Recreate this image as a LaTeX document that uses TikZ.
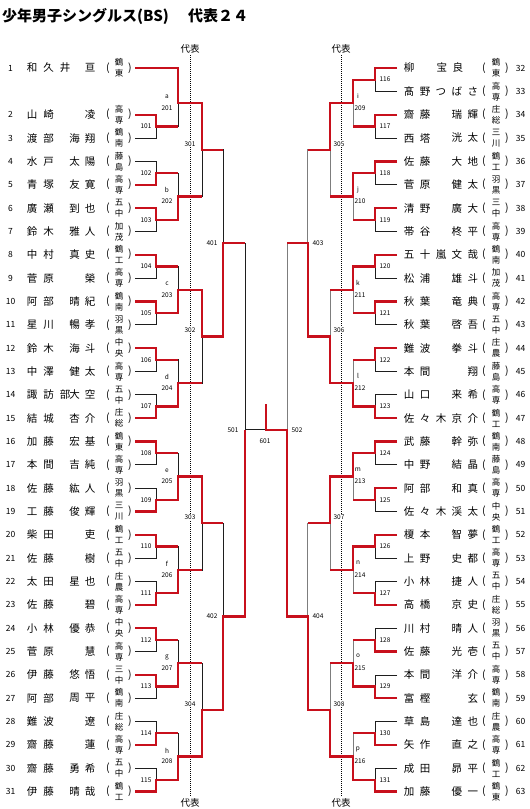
\documentclass[tikz,border=0pt]{standalone}
\usepackage{fontspec}
\setmainfont{Noto Sans CJK JP}
\definecolor{redc}{RGB}{200,16,28}
\definecolor{thinc}{RGB}{30,30,30}
\definecolor{thinr}{RGB}{125,125,125}
\newlength\chw
\def\bx#1{\bxi#1\relax}
\def\bxi#1{\ifx\relax#1\else\makebox[\chw]{#1}\expandafter\bxi\fi}
\newcommand\slotu{23.34}
\def\losec{thinc}
% match: #1 xin top, #2 xin bottom, #3 x vertical, #4 x out, #5 y top, #6 y bottom, #7 y mid, #8 winner T/B
\newcommand\Mt[8]{%
  \draw[t#8] (#1,#5) -- (#3,#5) -- (#3,#7) -- (#4,#7);
  \draw[b#8] (#2,#6) -- (#3,#6) -- (#3,#7) -- (#4,#7);
}
\newcommand\bracket{%
 \def\losec{thinc}%
 % ---- left
 \foreach \sl/\wn in {2/T,4/B,6/T,8/T,10/T,12/T,14/B,16/T,18/B,20/T,22/B,24/T,26/T,28/B,30/B}{%
   \pgfmathsetmacro\yt{68+\sl*\slotu}%
   \pgfmathsetmacro\yb{68+(\sl+1)*\slotu}%
   \pgfmathsetmacro\ym{68+(\sl+0.5)*\slotu}%
   \Mt{135}{135}{156}{178}{\yt}{\yb}{\ym}{\wn}}%
 \Mt{135}{156}{178}{202}{68}{68+2.5*\slotu}{68+1.5*\slotu}{T}%
 \foreach \sl/\wn in {4/B,8/B,12/B,16/B,20/B,24/B,28/B}{%
   \pgfmathsetmacro\yt{68+(\sl+0.5)*\slotu}%
   \pgfmathsetmacro\yb{68+(\sl+2.5)*\slotu}%
   \pgfmathsetmacro\ym{68+(\sl+1.5)*\slotu}%
   \Mt{156}{156}{178}{202}{\yt}{\yb}{\ym}{\wn}}%
 \foreach \sl/\wn in {0/T,8/T,16/T,24/B}{%
   \pgfmathsetmacro\yt{68+(\sl+1.5)*\slotu}%
   \pgfmathsetmacro\yb{68+(\sl+5.5)*\slotu}%
   \pgfmathsetmacro\ym{68+(\sl+3.5)*\slotu}%
   \Mt{178}{178}{202}{223}{\yt}{\yb}{\ym}{\wn}}%
 \foreach \sl/\wn in {0/B,16/B}{%
   \pgfmathsetmacro\yt{68+(\sl+3.5)*\slotu}%
   \pgfmathsetmacro\yb{68+(\sl+11.5)*\slotu}%
   \pgfmathsetmacro\ym{68+(\sl+7.5)*\slotu}%
   \Mt{202}{202}{223}{245}{\yt}{\yb}{\ym}{\wn}}%
 \Mt{223}{223}{245}{245}{68+7.5*\slotu}{68+23.5*\slotu}{68+15.5*\slotu}{B}%
 \draw[lose] (245,68+15.5*\slotu) -- (266,68+15.5*\slotu);
 % ---- right
 \foreach \sl/\wn in {0/T,2/T,4/T,6/T,8/T,10/T,12/T,14/B,16/T,18/T,20/T,22/B,24/B,26/B,28/B,30/B}{%
   \pgfmathsetmacro\yt{68+\sl*\slotu}%
   \pgfmathsetmacro\yb{68+(\sl+1)*\slotu}%
   \pgfmathsetmacro\ym{68+(\sl+0.5)*\slotu}%
   \Mt{397}{397}{375}{353}{\yt}{\yb}{\ym}{\wn}}%
 \def\losec{thinr}%
 \foreach \sl/\wn in {0/T,4/T,8/T,12/B,16/T,20/T,24/B,28/B}{%
   \pgfmathsetmacro\yt{68+(\sl+0.5)*\slotu}%
   \pgfmathsetmacro\yb{68+(\sl+2.5)*\slotu}%
   \pgfmathsetmacro\ym{68+(\sl+1.5)*\slotu}%
   \Mt{375}{375}{353}{330}{\yt}{\yb}{\ym}{\wn}}%
 \foreach \sl/\wn in {0/T,8/B,16/T,24/B}{%
   \pgfmathsetmacro\yt{68+(\sl+1.5)*\slotu}%
   \pgfmathsetmacro\yb{68+(\sl+5.5)*\slotu}%
   \pgfmathsetmacro\ym{68+(\sl+3.5)*\slotu}%
   \Mt{353}{353}{330}{307.7}{\yt}{\yb}{\ym}{\wn}}%
 \foreach \sl/\wn in {0/B,16/B}{%
   \pgfmathsetmacro\yt{68+(\sl+3.5)*\slotu}%
   \pgfmathsetmacro\yb{68+(\sl+11.5)*\slotu}%
   \pgfmathsetmacro\ym{68+(\sl+7.5)*\slotu}%
   \Mt{330}{330}{307.7}{287}{\yt}{\yb}{\ym}{\wn}}%
 \Mt{307.7}{307.7}{287}{266}{68+7.5*\slotu}{68+23.5*\slotu}{68+15.5*\slotu}{B}%
 \draw[win] (287,68+15.5*\slotu) -- (266,68+15.5*\slotu) -- (266,404);
 \def\losec{thinc}%
}
\newcommand\Lrow[6]{%
 \pgfmathsetmacro\yy{68+#2*\slotu}%
 \node[numf] (lnum#1) at (10.5,\yy) {#1};
 \node[nmf,anchor=west] (lsur#1) at (23.75,\yy) {\setlength\chw{16.5pt}\bx{#3}};
 \node[nmf,anchor=east] (lgiv#1) at (98,\yy) {\setlength\chw{15.5pt}\bx{#4}};
 \node[nmf] (lpo#1) at (108,\yy) {(};
 \node[schf] (lsch#1) at (119,\yy) {#5\\#6};
 \node[nmf] (lpc#1) at (130,\yy) {)};
}
\newcommand\Rrow[7]{%
 \pgfmathsetmacro\yy{68+#2*\slotu}%
 \node[numf] (rnum#1) at (520.5,\yy) {#1};
 \node[nmf,anchor=west] (rsur#1) at (401,\yy) {\setlength\chw{16pt}\bx{#3}};
 \node[nmf,anchor=east] (rgiv#1) at (#7,\yy) {\setlength\chw{16pt}\bx{#4}};
 \node[nmf] (rpo#1) at (484,\yy) {(};
 \node[schf] (rsch#1) at (496,\yy) {#5\\#6};
 \node[nmf] (rpc#1) at (507,\yy) {)};
}
\tikzset{
 nmf/.style={font=\fontsize{10.5}{12}\selectfont, inner sep=0pt},
 schf/.style={font=\fontsize{8.5}{11}\selectfont, align=center, inner sep=0pt},
 numf/.style={font=\fontsize{8.5}{10}\selectfont, inner sep=0pt},
 labf/.style={font=\fontsize{6.5}{7}\selectfont, inner sep=0.6pt},
 labw/.style={labf, fill=white},
 repf/.style={font=\fontsize{9.5}{10}\selectfont, inner sep=0pt},
 titlef/.style={font=\fontsize{15}{18}\selectfont\bfseries, inner sep=0pt},
 dotln/.style={draw=black, line width=0.6pt, dash pattern=on 1pt off 1pt},
 tT/.style={win}, tB/.style={lose}, bT/.style={lose}, bB/.style={win},
}
\begin{document}
\begin{tikzpicture}[x=1pt,y=-1pt,line join=miter]
\useasboundingbox (0,0) rectangle (530,809);
\fill[white] (0,0) rectangle (530,809);
% title
\node[titlef,anchor=west] (title) at (2,16) {少年男子シングルス(BS)};
\node[titlef,anchor=west] (title2) at (188,16) {代表２４};
% representative lines
\node[repf] (repL) at (190,49) {代表};
\node[repf] (repR) at (341,49) {代表};
\node[repf] (repLb) at (190,803) {代表};
\node[repf] (repRb) at (341,803) {代表};
\draw[dotln] (190,55) -- (190,797);
\draw[dotln] (341,55) -- (341,797);
% bracket: thin lines first, red lines on top
\tikzset{win/.style={draw=none},lose/.style={draw=\losec,line width=0.6pt}}
\bracket
\tikzset{win/.style={draw=redc,line width=2.3pt},lose/.style={draw=none}}
\bracket
% match labels left
\foreach \sl/\n in {2/101,4/102,6/103,8/104,10/105,12/106,14/107,16/108,18/109,20/110,22/111,24/112,26/113,28/114,30/115}{%
  \pgfmathsetmacro\ym{68+(\sl+0.5)*\slotu}
  \node[labf] (m\n) at (146,\ym) {\n};}
\foreach \sl/\lt/\n in {0/a/201,4/b/202,8/c/203,12/d/204,16/e/205,20/f/206,24/g/207,28/h/208}{%
  \pgfmathsetmacro\ym{68+(\sl+1.5)*\slotu}
  \node[labf] (ml\n) at (167,\ym-6) {\lt};
  \node[labf] (m\n) at (167,\ym+5) {\n};}
\foreach \sl/\n in {0/301,8/302,16/303,24/304}{%
  \pgfmathsetmacro\ym{68+(\sl+3.5)*\slotu}
  \node[labw] (m\n) at (190,\ym-6) {\n};}
\node[labf] (m401) at (212,68+7.5*\slotu) {401};
\node[labf] (m402) at (212,68+23.5*\slotu) {402};
\node[labf] (m501) at (233,68+15.5*\slotu) {501};
\node[labf] (m601) at (265,441) {601};
% match labels right
\foreach \sl/\n in {0/116,2/117,4/118,6/119,8/120,10/121,12/122,14/123,16/124,18/125,20/126,22/127,24/128,26/129,28/130,30/131}{%
  \pgfmathsetmacro\ym{68+(\sl+0.5)*\slotu}
  \node[labf] (m\n) at (385,\ym) {\n};}
\foreach \sl/\lt/\n in {0/i/209,4/j/210,8/k/211,12/l/212,16/m/213,20/n/214,24/o/215,28/p/216}{%
  \pgfmathsetmacro\ym{68+(\sl+1.5)*\slotu}
  \node[labf] (ml\n) at (358,\ym-7) {\lt};
  \node[labf] (m\n) at (360,\ym+5) {\n};}
\foreach \sl/\n in {0/305,8/306,16/307,24/308}{%
  \pgfmathsetmacro\ym{68+(\sl+3.5)*\slotu}
  \node[labw] (m\n) at (339,\ym-6) {\n};}
\node[labf] (m403) at (318,68+7.5*\slotu) {403};
\node[labf] (m404) at (318,68+23.5*\slotu) {404};
\node[labf] (m502) at (297,68+15.5*\slotu) {502};
% players left
\Lrow{1}{0}{和久井}{亘}{鶴}{東}
\Lrow{2}{2}{山崎}{凌}{高}{専}
\Lrow{3}{3}{渡部}{海翔}{鶴}{南}
\Lrow{4}{4}{水戸}{太陽}{藤}{島}
\Lrow{5}{5}{青塚}{友寛}{高}{専}
\Lrow{6}{6}{廣瀬}{到也}{五}{中}
\Lrow{7}{7}{鈴木}{雅人}{加}{茂}
\Lrow{8}{8}{中村}{真史}{鶴}{工}
\Lrow{9}{9}{菅原}{榮}{高}{専}
\Lrow{10}{10}{阿部}{晴紀}{鶴}{南}
\Lrow{11}{11}{星川}{暢孝}{羽}{黒}
\Lrow{12}{12}{鈴木}{海斗}{中}{央}
\Lrow{13}{13}{中澤}{健太}{高}{専}
\Lrow{14}{14}{諏訪部}{大空}{五}{中}
\Lrow{15}{15}{結城}{杏介}{庄}{総}
\Lrow{16}{16}{加藤}{宏基}{鶴}{東}
\Lrow{17}{17}{本間}{吉純}{高}{専}
\Lrow{18}{18}{佐藤}{紘人}{羽}{黒}
\Lrow{19}{19}{工藤}{俊輝}{三}{川}
\Lrow{20}{20}{柴田}{吏}{鶴}{工}
\Lrow{21}{21}{佐藤}{樹}{五}{中}
\Lrow{22}{22}{太田}{星也}{庄}{農}
\Lrow{23}{23}{佐藤}{碧}{高}{専}
\Lrow{24}{24}{小林}{優恭}{中}{央}
\Lrow{25}{25}{菅原}{慧}{高}{専}
\Lrow{26}{26}{伊藤}{悠悟}{三}{中}
\Lrow{27}{27}{阿部}{周平}{鶴}{南}
\Lrow{28}{28}{難波}{遼}{庄}{総}
\Lrow{29}{29}{齋藤}{蓮}{高}{専}
\Lrow{30}{30}{齋藤}{勇希}{五}{中}
\Lrow{31}{31}{伊藤}{晴哉}{鶴}{工}
% players right
\Rrow{32}{0}{柳}{宝良}{鶴}{東}{466}
\Rrow{33}{1}{髙野}{つばさ}{高}{専}{481}
\Rrow{34}{2}{齋藤}{瑞輝}{庄}{総}{481}
\Rrow{35}{3}{西塔}{洸太}{三}{川}{481}
\Rrow{36}{4}{佐藤}{大地}{鶴}{工}{481}
\Rrow{37}{5}{菅原}{健太}{羽}{黒}{481}
\Rrow{38}{6}{清野}{廣大}{三}{中}{481}
\Rrow{39}{7}{帯谷}{柊平}{高}{専}{481}
\Rrow{40}{8}{五十嵐}{文哉}{鶴}{南}{481}
\Rrow{41}{9}{松浦}{雄斗}{加}{茂}{481}
\Rrow{42}{10}{秋葉}{竜典}{高}{専}{481}
\Rrow{43}{11}{秋葉}{啓吾}{五}{中}{481}
\Rrow{44}{12}{難波}{拳斗}{庄}{農}{481}
\Rrow{45}{13}{本間}{翔}{藤}{島}{481}
\Rrow{46}{14}{山口}{来希}{高}{専}{481}
\Rrow{47}{15}{佐々木}{京介}{鶴}{工}{481}
\Rrow{48}{16}{武藤}{幹弥}{鶴}{南}{481}
\Rrow{49}{17}{中野}{結晶}{藤}{島}{481}
\Rrow{50}{18}{阿部}{和真}{高}{専}{481}
\Rrow{51}{19}{佐々木}{渓太}{中}{央}{481}
\Rrow{52}{20}{榎本}{智夢}{鶴}{工}{481}
\Rrow{53}{21}{上野}{史都}{高}{専}{481}
\Rrow{54}{22}{小林}{捷人}{五}{中}{481}
\Rrow{55}{23}{高橋}{京史}{庄}{総}{481}
\Rrow{56}{24}{川村}{晴人}{羽}{黒}{481}
\Rrow{57}{25}{佐藤}{光壱}{五}{中}{481}
\Rrow{58}{26}{本間}{洋介}{高}{専}{481}
\Rrow{59}{27}{富樫}{玄}{鶴}{南}{481}
\Rrow{60}{28}{草島}{達也}{庄}{農}{481}
\Rrow{61}{29}{矢作}{直之}{高}{専}{481}
\Rrow{62}{30}{成田}{昴平}{鶴}{工}{481}
\Rrow{63}{31}{加藤}{優一}{鶴}{東}{481}
\end{tikzpicture}
\end{document}
